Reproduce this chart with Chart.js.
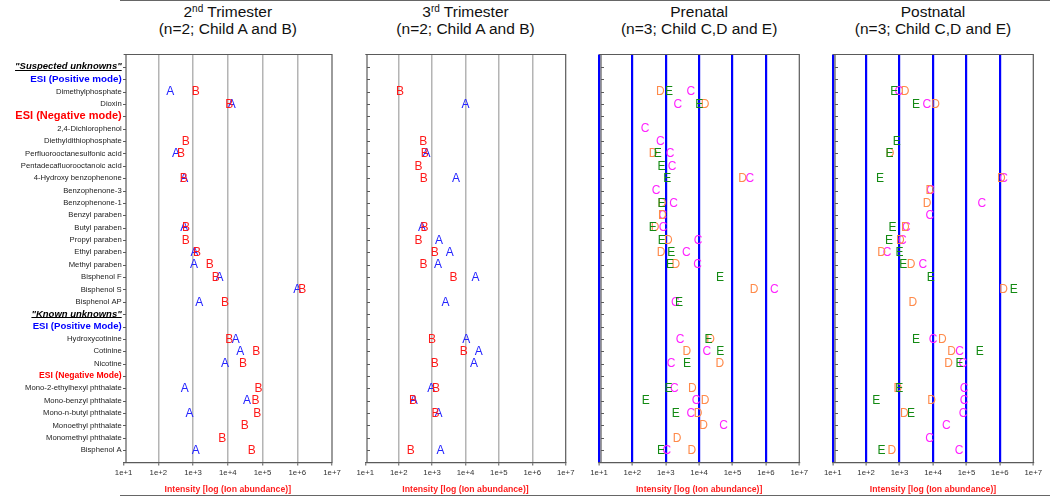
<!DOCTYPE html>
<html><head><meta charset="utf-8">
<script src="https://cdn.jsdelivr.net/npm/chart.js@4.4.1/dist/chart.umd.min.js"></script>
<style>
html,body{margin:0;padding:0;background:#fff;}
#wrap{position:relative;width:1050px;height:496px;overflow:hidden;font-family:"Liberation Sans",Arial,sans-serif;}
canvas{position:absolute;top:0;}
.t{position:absolute;width:240px;text-align:center;font-size:15.5px;line-height:17px;color:#111;white-space:nowrap;}
.t sup{font-size:10px;line-height:0;vertical-align:5px;}
.hl{position:absolute;height:1px;background:#666;left:120px;width:930px;}
</style></head><body><div id="wrap">
<div class="hl" style="top:0"></div>
<div class="hl" style="top:495px"></div>
</div>
<script>
const _ = null;
// ---- categories (rows, top to bottom) ----
const rowLabels = [
 '"Suspected unknowns"', 'ESI (Positive mode)', 'Dimethylphosphate', 'Dioxin', 'ESI (Negative mode)',
 '2,4-Dichlorophenol', 'Diethyldithiophosphate', 'Perfluorooctanesulfonic acid', 'Pentadecafluorooctanoic acid', '4-Hydroxy benzophenone',
 'Benzophenone-3', 'Benzophenone-1', 'Benzyl paraben', 'Butyl paraben', 'Propyl paraben',
 'Ethyl paraben', 'Methyl paraben', 'Bisphenol F', 'Bisphenol S', 'Bisphenol AP',
 '"Known unknowns"', 'ESI (Positive Mode)', 'Hydroxycotinine', 'Cotinine', 'Nicotine',
 'ESI (Negative Mode)', 'Mono-2-ethylhexyl phthalate', 'Mono-benzyl phthalate', 'Mono-n-butyl phthalate', 'Monoethyl phthalate',
 'Monomethyl phthalate', 'Bisphenol A'];
const rowKinds = [
 'group','pos','','','neg',
 '','','','','',
 '','','','','',
 '','','','','',
 'group','pos','','','',
 'neg','','','','',
 '',''];
const xTickExponents = [1,2,3,4,5,6,7];
const xTickLabels = ['1e+1','1e+2','1e+3','1e+4','1e+5','1e+6','1e+7'];
const xTitle = 'Intensity [log (Ion abundance)]';
const titleLine1 = ['2<sup>nd</sup> Trimester','3<sup>rd</sup> Trimester','Prenatal','Postnatal'];
const titleLine2 = ['(n=2; Child A and B)','(n=2; Child A and B)','(n=3; Child C,D and E)','(n=3; Child C,D and E)'];

// ---- series values (ion abundance), one entry per row ----
const t2A = [_,_,2.2e2,1.3e4,_,_,_,3.2e2,  _,5.6e2,_,_,_,5.6e2,_,1.1e3,  1.07e3,5.8e3,1.0e6,1.5e3,_,_,1.7e4,2.3e4,  8.3e3,_,5.8e2,3.6e4,7.9e2,_,_,1.2e3];
const t2B = [_,_,1.2e3,1.1e4,_,_,6.2e2,4.5e2,  _,5.4e2,_,_,_,6.3e2,6.2e2,1.3e3,  3.0e3,4.5e3,1.4e6,8.3e3,_,_,1.1e4,6.6e4,  2.75e4,_,7.6e4,6.3e4,7.1e4,3.1e4,6.9e3,4.9e4];
const t3A = [_,_,_,1.0e4,_,_,_,6.8e2,  _,5.2e3,_,_,_,5.0e2,1.6e3,3.4e3,  1.5e3,2.0e4,_,2.5e3,_,_,1.05e4,2.5e4,  1.8e4,_,9.5e2,2.8e2,1.55e3,_,_,1.8e3];
const t3B = [_,_,1.1e2,_,_,_,5.4e2,6.0e2,  3.9e2,5.6e2,_,_,_,5.9e2,3.9e2,1.2e3,  5.5e2,4.4e3,_,_,_,_,1.0e3,8.9e3,  1.2e3,_,1.3e3,2.7e2,1.26e3,_,_,2.3e2];
const preC = [_,_,5.6e3,2.3e3,_,2.4e2,6.9e2,1.35e3,  1.55e3,3.3e5,5.1e2,1.7e3,8.1e2,8.3e2,9.3e3,4.1e3,  8.9e3,_,1.8e6,1.95e3,_,_,2.7e3,1.7e4,  1.45e3,_,1.8e3,8.1e3,5.6e3,5.4e4,_,1.07e3];
const preD = [_,_,6.9e2,1.5e4,_,_,_,4.2e2,  _,2.0e5,_,7.8e2,7.9e2,4.8e2,1.2e3,7.2e2,  2.0e3,_,4.4e5,_,_,_,2.2e4,4.3e3,  4.2e4,_,6.2e3,1.5e4,9.3e3,1.35e4,2.2e3,6.0e3];
const preE = [_,_,1.26e3,1.0e4,_,_,_,5.8e2,  7.4e2,1.1e3,_,7.4e2,_,4.1e2,7.6e2,1.45e3,  1.35e3,4.2e4,_,2.5e3,_,_,1.9e4,4.3e4,  4.3e3,_,1.2e3,2.5e2,2.0e3,_,_,7.2e2];
const postC = [_,_,9.5e2,6.5e3,_,_,_,_,  _,1.3e6,8.5e3,2.9e5,8.1e3,1.6e3,1.2e3,4.2e2,  5.0e3,_,_,_,_,_,1.0e4,6.2e4,  7.8e4,_,8.5e4,8.5e4,7.9e4,2.5e4,7.9e3,6.0e4];
const postD = [_,_,1.45e3,1.2e4,_,_,_,5.2e2,  _,1.1e6,8.1e3,6.6e3,_,1.5e3,1.05e3,2.9e2,  2.2e3,_,1.3e6,2.5e3,_,_,1.9e4,3.6e4,  2.9e4,_,8.9e2,9.1e3,1.4e3,_,_,5.9e2];
const postE = [_,_,6.9e2,3.1e3,_,_,8.3e2,5.0e2,  _,2.6e2,_,_,_,6.2e2,4.8e2,1.0e3,  1.3e3,8.5e3,2.6e6,_,_,_,3.1e3,2.5e5,  6.2e4,_,9.8e2,2.0e2,2.2e3,_,_,2.9e2];

// ---- styles / layout ----
const FAM = "'Liberation Sans', Arial, sans-serif";
const letterColors = {A:'#2424ff', B:'#ff1a1a', C:'#ff22ff', D:'#ff8a4a', E:'#138a13'};
const headerFontSize = {1:9.5, 2:9.8, 5:11, 21:9.5, 22:9.6, 26:8.6};
const panels = [
  {left:0,   width:345, plotLeft:123.6, plotRight:332,    grid:'gray', labels:true,  axisOffset:2.4, tickDir:-1, series:[['A',t2A],['B',t2B]]},
  {left:345, width:230, plotLeft:365.3, plotRight:565.7,  grid:'gray', labels:false, axisOffset:1.7, tickDir:1,  series:[['A',t3A],['B',t3B]]},
  {left:575, width:235, plotLeft:599,   plotRight:799.3,  grid:'blue', labels:false, axisOffset:2,   tickDir:1,  series:[['C',preC],['D',preD],['E',preE]]},
  {left:810, width:240, plotLeft:832.7, plotRight:1033.3, grid:'blue', labels:false, axisOffset:2.3, tickDir:1,  series:[['C',postC],['D',postD],['E',postE]]}
];
const PLOT_TOP = 54.5, PLOT_BOTTOM = 462.5, H = 496;

const framePlugin = {
  id:'frame',
  beforeDatasetsDraw(chart, args, opts){
    const {ctx, chartArea:a} = chart, ys = chart.scales.y;
    ctx.save();
    ctx.strokeStyle = '#5a5a5a'; ctx.lineWidth = 1.2;
    ctx.beginPath(); ctx.moveTo(a.left, a.top); ctx.lineTo(a.right, a.top); ctx.lineTo(a.right, a.bottom); ctx.stroke();
    const ax = a.left + opts.axisOffset;
    ctx.beginPath(); ctx.moveTo(ax, a.top); ctx.lineTo(ax, a.bottom); ctx.stroke();
    ctx.lineWidth = 1;
    ys.ticks.forEach(t => {
      const y = Math.round(ys.getPixelForValue(t.value)) + 0.5;
      ctx.beginPath(); ctx.moveTo(ax + opts.tickDir*3, y); ctx.lineTo(ax, y); ctx.stroke();
    });
    ctx.restore();
  }
};
const lettersPlugin = {
  id:'letters',
  afterDatasetsDraw(chart){
    const ctx = chart.ctx;
    ctx.save();
    ctx.font = '12px ' + FAM; ctx.textAlign = 'center'; ctx.textBaseline = 'middle';
    chart.data.datasets.forEach((ds,i) => {
      ctx.fillStyle = ds.letterColor;
      chart.getDatasetMeta(i).data.forEach(p => ctx.fillText(ds.letter, p.x, p.y + 0.5));
    });
    ctx.restore();
  }
};
const underlinePlugin = {
  id:'underline',
  afterDraw(chart){
    const ys = chart.scales.y, ctx = chart.ctx;
    ctx.save();
    ctx.strokeStyle = '#000'; ctx.lineWidth = 1;
    rowKinds.forEach((k,i) => {
      if (k !== 'group') return;
      ctx.font = 'italic bold ' + headerFontSize[i+1] + 'px ' + FAM;
      const w = ctx.measureText(rowLabels[i]).width;
      const xr = ys.right - 1.9, y = Math.round(ys.getPixelForValue(i+1) + 3) + 0.5;
      ctx.beginPath(); ctx.moveTo(xr - w, y); ctx.lineTo(xr, y); ctx.stroke();
    });
    ctx.restore();
  }
};

function rowFont(v){
  const k = rowKinds[v-1];
  if (k === 'group') return {family:FAM, size:headerFontSize[v], weight:'bold', style:'italic'};
  if (k === 'pos' || k === 'neg') return {family:FAM, size:headerFontSize[v], weight:'bold'};
  return {family:FAM, size:7.7};
}
function rowColor(v){
  const k = rowKinds[v-1];
  return k === 'pos' ? '#0000ff' : k === 'neg' ? '#ff0000' : k === 'group' ? '#000' : '#222';
}

const wrap = document.getElementById('wrap');
panels.forEach((P, pi) => {
  const cx = (P.plotLeft + P.plotRight)/2;
  const d1 = document.createElement('div'); d1.className = 't'; d1.style.left = (cx-120)+'px'; d1.style.top = '3px'; d1.innerHTML = titleLine1[pi]; wrap.appendChild(d1);
  const d2 = document.createElement('div'); d2.className = 't'; d2.style.left = (cx-120)+'px'; d2.style.top = '20px'; d2.textContent = titleLine2[pi]; wrap.appendChild(d2);

  const cv = document.createElement('canvas');
  cv.width = P.width; cv.height = H; cv.style.left = P.left + 'px';
  wrap.appendChild(cv);
  const yWidth = P.plotLeft - P.left;
  const padRight = P.left + P.width - P.plotRight;
  const datasets = P.series.map(([letter, vals]) => ({
    letter, letterColor: letterColors[letter],
    data: vals.map((v,i) => v == null ? null : {x:v, y:i+1}).filter(Boolean),
    pointRadius:0, showLine:false
  }));
  const plugins = [framePlugin, lettersPlugin];
  if (P.labels) plugins.push(underlinePlugin);
  new Chart(cv, {
    type:'scatter',
    data:{datasets},
    plugins,
    options:{
      responsive:false, animation:false, devicePixelRatio:1, events:[],
      layout:{padding:{top:PLOT_TOP, right:padRight, bottom:0, left:0}},
      plugins:{legend:{display:false}, tooltip:{enabled:false},
        frame:{axisOffset:P.axisOffset, tickDir:P.tickDir}},
      scales:{
        x:{
          type:'logarithmic', position:'bottom', min:10, max:1e7,
          afterBuildTicks:s => { s.ticks = xTickExponents.map(e => ({value:Math.pow(10,e)})); },
          afterFit:s => { s.height = H - PLOT_BOTTOM; s.paddingLeft = 0; s.paddingRight = 0; },
          ticks:{autoSkip:false, maxRotation:0, padding:3, color:'#333', font:{family:FAM, size:7.8},
            callback:(v,i) => xTickLabels[i]},
          grid:{
            color: c => {
              const v = c.tick && c.tick.value;
              if (v >= 1e7*0.999) return 'rgba(0,0,0,0)';
              if (P.grid === 'gray') return v <= 10.01 ? 'rgba(0,0,0,0)' : '#b4b4b4';
              return '#0000ff';
            },
            lineWidth: P.grid === 'gray' ? 1.5 : 2.2,
            tickColor:'#555', tickWidth:1, tickLength:3
          },
          border:{display:true, color:'#5a5a5a', width:1.2},
          title:{display:true, text:xTitle, color:'#ff2020', font:{family:FAM, size:8.7, weight:'bold'}, padding:{top:0, bottom:1.5}}
        },
        y:{
          type:'linear', position:'left', min:0, max:33, reverse:true,
          afterBuildTicks:s => { s.ticks = rowLabels.map((l,i) => ({value:i+1})); },
          afterFit:s => { s.width = yWidth; s.paddingTop = 0; s.paddingBottom = 0; },
          ticks:{display:P.labels, autoSkip:false, padding:1.9,
            callback:v => rowLabels[v-1],
            font:c => rowFont(c.tick ? c.tick.value : 3),
            color:c => rowColor(c.tick ? c.tick.value : 3)},
          grid:{display:true, drawOnChartArea:false, drawTicks:false, color:'rgba(0,0,0,0)'},
          border:{display:false}
        }
      }
    }
  });
});
</script>
</body></html>
